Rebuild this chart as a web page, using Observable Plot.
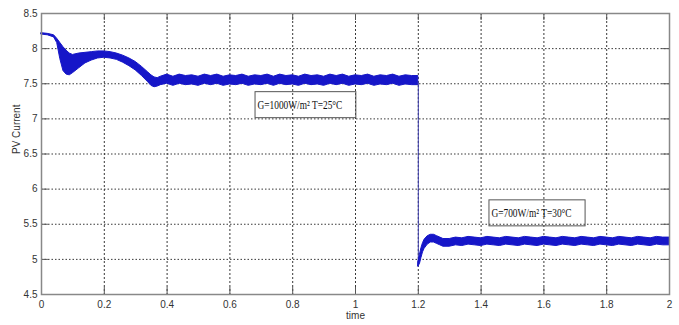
<!DOCTYPE html>
<html>
<head>
<meta charset="utf-8">
<script src="https://cdn.jsdelivr.net/npm/d3@7"></script>
<script src="https://cdn.jsdelivr.net/npm/@observablehq/plot@0.6"></script>
<style>
  html, body { margin: 0; padding: 0; background: #fff; }
  #chart { width: 679px; height: 325px; }
</style>
</head>
<body>
<div id="chart"></div>
<script>
// ---- tick labels ----
const xTicks = [0, 0.2, 0.4, 0.6, 0.8, 1, 1.2, 1.4, 1.6, 1.8, 2];
const yTicks = [4.5, 5, 5.5, 6, 6.5, 7, 7.5, 8, 8.5];

// ---- PV current envelope, before the irradiance step (time, lower, upper) ----
const timeBefore = [0, 0.02, 0.04, 0.05, 0.06, 0.07, 0.08, 0.09, 0.10, 0.12, 0.14, 0.16, 0.18, 0.20,
  0.22, 0.24, 0.26, 0.28, 0.30, 0.32, 0.34, 0.35, 0.36, 0.37, 0.38, 0.40,
  0.42, 0.44, 0.46, 0.48, 0.50, 0.52, 0.54, 0.56, 0.58, 0.60, 0.62, 0.64, 0.66, 0.68, 0.70,
  0.72, 0.74, 0.76, 0.78, 0.80, 0.82, 0.84, 0.86, 0.88, 0.90, 0.92, 0.94, 0.96, 0.98, 1.00,
  1.02, 1.04, 1.06, 1.08, 1.10, 1.12, 1.14, 1.16, 1.18, 1.20];
const lowBefore = [8.20, 8.19, 8.16, 8.08, 7.85, 7.68, 7.63, 7.62, 7.65, 7.72, 7.79, 7.83, 7.86, 7.87,
  7.86, 7.84, 7.80, 7.75, 7.69, 7.61, 7.52, 7.47, 7.45, 7.46, 7.48, 7.50,
  7.47, 7.50, 7.48, 7.49, 7.47, 7.50, 7.48, 7.50, 7.47, 7.49, 7.48, 7.50, 7.47, 7.49, 7.48,
  7.50, 7.47, 7.50, 7.48, 7.49, 7.47, 7.50, 7.48, 7.49, 7.47, 7.50, 7.48, 7.50, 7.47, 7.49,
  7.48, 7.50, 7.47, 7.49, 7.48, 7.50, 7.47, 7.49, 7.48, 7.48];
const highBefore = [8.22, 8.21, 8.19, 8.14, 8.08, 8.02, 7.97, 7.93, 7.91, 7.93, 7.94, 7.95, 7.96, 7.96,
  7.95, 7.93, 7.90, 7.86, 7.81, 7.74, 7.66, 7.62, 7.59, 7.58, 7.60, 7.63,
  7.60, 7.63, 7.61, 7.62, 7.60, 7.63, 7.61, 7.63, 7.60, 7.62, 7.61, 7.63, 7.60, 7.62, 7.61,
  7.63, 7.60, 7.63, 7.61, 7.62, 7.60, 7.63, 7.61, 7.62, 7.60, 7.63, 7.61, 7.63, 7.60, 7.62,
  7.61, 7.63, 7.60, 7.62, 7.61, 7.63, 7.60, 7.62, 7.61, 7.61];

// ---- step transition at t = 1.2 ----
const dropTime = [1.2, 1.2];
const dropValue = [7.52, 4.90];

// ---- PV current envelope, after the irradiance step ----
const timeAfter = [1.200, 1.205, 1.21, 1.215, 1.22, 1.23, 1.24, 1.25, 1.26, 1.27, 1.28, 1.30, 1.32,
  1.34, 1.36, 1.38, 1.40, 1.42, 1.44, 1.46, 1.48, 1.50, 1.52, 1.54, 1.56, 1.58, 1.60,
  1.62, 1.64, 1.66, 1.68, 1.70, 1.72, 1.74, 1.76, 1.78, 1.80, 1.82, 1.84, 1.86, 1.88, 1.90,
  1.92, 1.94, 1.96, 1.98, 2.00];
const lowAfter = [4.90, 4.93, 5.02, 5.10, 5.15, 5.21, 5.24, 5.24, 5.22, 5.20, 5.18, 5.18, 5.20,
  5.19, 5.21, 5.20, 5.19, 5.21, 5.20, 5.19, 5.21, 5.20, 5.19, 5.21, 5.20, 5.19, 5.21,
  5.20, 5.19, 5.21, 5.20, 5.19, 5.21, 5.20, 5.19, 5.21, 5.20, 5.19, 5.21, 5.20, 5.19, 5.21,
  5.20, 5.19, 5.21, 5.20, 5.20];
const highAfter = [4.96, 5.06, 5.16, 5.23, 5.28, 5.33, 5.35, 5.35, 5.33, 5.31, 5.29, 5.29, 5.31,
  5.30, 5.32, 5.31, 5.30, 5.32, 5.31, 5.30, 5.32, 5.31, 5.30, 5.32, 5.31, 5.30, 5.32,
  5.31, 5.30, 5.32, 5.31, 5.30, 5.32, 5.31, 5.30, 5.32, 5.31, 5.30, 5.32, 5.31, 5.30, 5.32,
  5.31, 5.30, 5.32, 5.31, 5.31];

// ---- annotations ----
const noteLabels = ["G=1000W/m² T=25°C", "G=700W/m² T=30°C"];
const noteTime = [0.688, 1.433];
const noteValue = [7.20, 5.66];

// ---- build tables ----
const before = timeBefore.map((t, i) => ({t, lo: lowBefore[i], hi: highBefore[i]}));
const after = timeAfter.map((t, i) => ({t, lo: lowAfter[i], hi: highAfter[i]}));
const drop = dropTime.map((t, i) => ({t, v: dropValue[i]}));
const notes = noteLabels.map((s, i) => ({s, t: noteTime[i], v: noteValue[i]}));

const blue = "#1616c8";
const tickFont = "'Liberation Sans Narrow', 'Arial Narrow', 'Liberation Sans', Arial, sans-serif";
const xMin = 0, xMax = 2, yMin = 4.5, yMax = 8.5;

const plot = Plot.plot({
  width: 679,
  height: 325,
  marginLeft: 41,
  marginRight: 10,
  marginTop: 13,
  marginBottom: 31,
  style: {fontFamily: tickFont, fontSize: "10px", color: "#333", background: "#fff"},
  x: {domain: [xMin, xMax], ticks: xTicks},
  y: {domain: [yMin, yMax], ticks: yTicks},
  marks: [
    Plot.gridX(xTicks, {stroke: "#222", strokeOpacity: 0.9, strokeDasharray: "2,2"}),
    Plot.gridY(yTicks, {stroke: "#222", strokeOpacity: 0.9, strokeDasharray: "1.5,2"}),
    // inward ticks
    Plot.ruleX(xTicks, {y1: yMin, y2: yMin + 0.1, stroke: "#555"}),
    Plot.ruleX(xTicks, {y1: yMax, y2: yMax - 0.1, stroke: "#555"}),
    Plot.ruleY(yTicks, {x1: xMin, x2: xMin + 0.022, stroke: "#555"}),
    Plot.ruleY(yTicks, {x1: xMax, x2: xMax - 0.022, stroke: "#555"}),
    // signal
    Plot.areaY(before, {x: "t", y1: "lo", y2: "hi", fill: blue, stroke: blue, strokeWidth: 1}),
    Plot.line(drop, {x: "t", y: "v", stroke: "#3a3aa8", strokeWidth: 1}),
    Plot.areaY(after, {x: "t", y1: "lo", y2: "hi", fill: blue, stroke: blue, strokeWidth: 1}),
    Plot.frame({stroke: "#888", strokeWidth: 1.5}),
    Plot.axisX(xTicks, {tickSize: 0, tickPadding: 6, tickFormat: d => String(d), label: null}),
    Plot.axisY(yTicks, {tickSize: 0, tickPadding: 4, tickFormat: d => String(d), label: null}),
    Plot.text(["time"], {frameAnchor: "bottom", dy: 24, fill: "#333", fontSize: 10}),
    Plot.text(["PV Current"], {frameAnchor: "left", dx: -25, rotate: -90, fill: "#333", fontSize: 10}),
    Plot.text(notes, {x: "t", y: "v", text: "s", textAnchor: "start",
      fontFamily: "'Liberation Serif', 'Times New Roman', serif", fontSize: 12, fill: "#111"})
  ]
});

document.getElementById("chart").appendChild(plot);

// condense the axis tick labels slightly (the original uses a narrow face)
const svgBox = plot.getBoundingClientRect();

// boxes around the annotation texts
d3.select(plot).selectAll("text")
  .filter(function () { return this.textContent.startsWith("G="); })
  .each(function () {
    const el = this;
    const w = el.getComputedTextLength();
    const tl = w * 0.78;
    el.setAttribute("textLength", tl);
    el.setAttribute("lengthAdjust", "spacingAndGlyphs");
    const r = el.getBoundingClientRect();
    const left = r.left - svgBox.left;
    const cy = r.top - svgBox.top + r.height / 2;
    d3.select(plot).append("rect")
      .attr("x", left - 2.5)
      .attr("y", cy - 13)
      .attr("width", tl + 16)
      .attr("height", 26)
      .attr("fill", "none")
      .attr("stroke", "#555")
      .attr("stroke-width", 1);
  });
</script>
</body>
</html>
